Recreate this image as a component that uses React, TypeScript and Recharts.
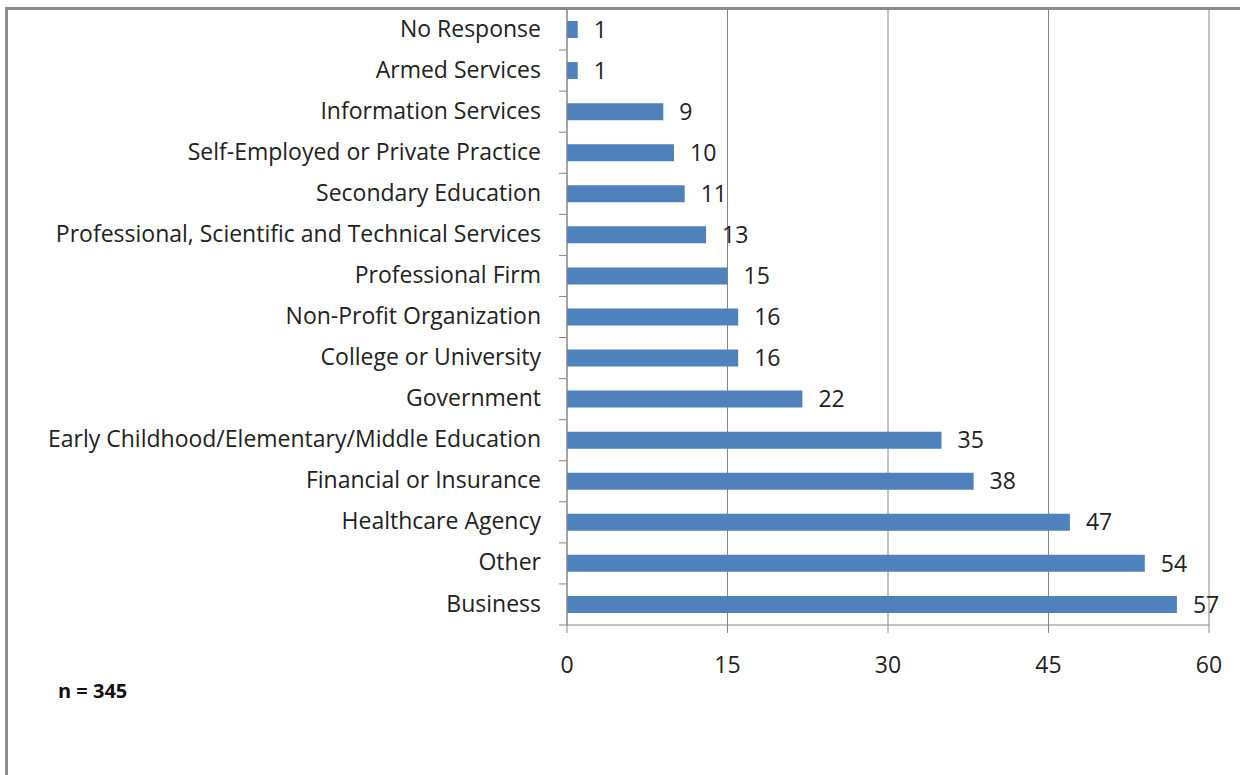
import React from "react";
import { BarChart, Bar, XAxis, YAxis, CartesianGrid, LabelList } from "recharts";

const categories = [
  "No Response",
  "Armed Services",
  "Information Services",
  "Self-Employed or Private Practice",
  "Secondary Education",
  "Professional, Scientific and Technical Services",
  "Professional Firm",
  "Non-Profit Organization",
  "College or University",
  "Government",
  "Early Childhood/Elementary/Middle Education",
  "Financial or Insurance",
  "Healthcare Agency",
  "Other",
  "Business",
];
const counts = [1, 1, 9, 10, 11, 13, 15, 16, 16, 22, 35, 38, 47, 54, 57];
const xTicks = [0, 15, 30, 45, 60];
const note = "n = 345";

const data = categories.map((name, i) => ({ name, value: counts[i] }));

const FONT = "'Open Sans', sans-serif";
const FS = 23;
const TEXT = "#222";
const GRID = "#868686";
const CHART_W = 1240;
const CHART_H = 775;
const M = { top: 9, right: 31, bottom: 0, left: 0 };
const X_AXIS_H = 150;
const Y_AXIS_W = 567;
const BAND = (CHART_H - M.top - M.bottom - X_AXIS_H) / categories.length;

const YTick = (props: any) => {
  const { y, payload, index } = props;
  const ax = Y_AXIS_W;
  return (
    <g>
      <line x1={ax - 8} x2={ax} y1={y - BAND / 2} y2={y - BAND / 2} stroke={GRID} />
      {index === categories.length - 1 && (
        <line x1={ax - 8} x2={ax} y1={y + BAND / 2} y2={y + BAND / 2} stroke={GRID} />
      )}
      <text x={ax - 26} y={y - 1} dy="0.35em" textAnchor="end" fill={TEXT} fontSize={FS} fontFamily={FONT}>
        {payload.value}
      </text>
    </g>
  );
};

export default function App() {
  return (
    <div style={{ position: "absolute", left: 0, top: 0, width: CHART_W, height: CHART_H, background: "#fff", overflow: "hidden" }}>
      <div
        style={{
          position: "absolute",
          left: 5,
          top: 7,
          width: CHART_W,
          height: CHART_H,
          borderLeft: "3px solid #8c8c8c",
          borderTop: "3px solid #8c8c8c",
          boxSizing: "border-box",
        }}
      />
      <div style={{ position: "absolute", left: 0, top: 0 }}>
        <BarChart width={CHART_W} height={CHART_H} data={data} layout="vertical" margin={M}>
          <CartesianGrid horizontal={false} vertical={true} stroke={GRID} />
          <XAxis
            type="number"
            domain={[0, 60]}
            ticks={xTicks}
            height={X_AXIS_H}
            axisLine={{ stroke: GRID }}
            tickLine={{ stroke: GRID }}
            tickSize={8}
            tickMargin={24}
            tick={{ fill: TEXT, fontSize: FS, fontFamily: FONT }}
          />
          <YAxis
            type="category"
            dataKey="name"
            width={Y_AXIS_W}
            axisLine={{ stroke: GRID }}
            tickLine={false}
            tick={<YTick />}
            interval={0}
          />
          <Bar dataKey="value" fill="#4F81BD" barSize={17} isAnimationActive={false}>
            <LabelList dataKey="value" position="right" offset={16} fill={TEXT} fontSize={FS} fontFamily={FONT} />
          </Bar>
        </BarChart>
      </div>
      <div
        style={{
          position: "absolute",
          left: 58,
          top: 677,
          fontFamily: FONT,
          fontWeight: 700,
          fontSize: 20,
          color: "#111",
        }}
      >
        {note}
      </div>
    </div>
  );
}
